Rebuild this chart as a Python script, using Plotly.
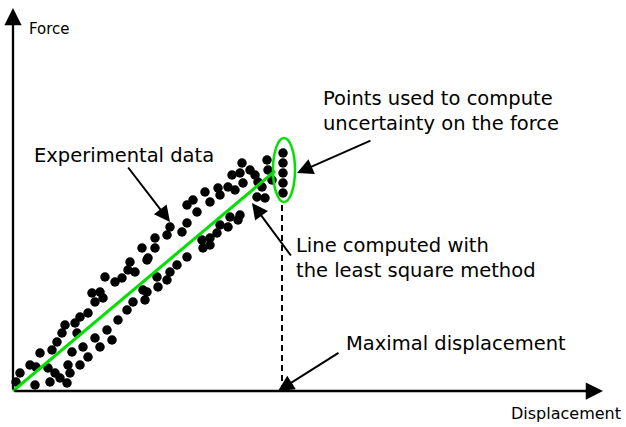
import plotly.graph_objects as go

disp = [3, 7, 17, 23, 22, 27, 39, 35, 37, 42, 47, 54, 57, 55, 67, 59, 70, 75, 44, 49,
        52, 64, 62, 67, 75, 82, 87, 94, 99, 105, 114, 120, 79, 87, 82, 90, 92, 102, 109, 115,
        122, 117, 129, 134, 142, 142, 130, 132, 144, 145,
        270, 270, 270, 270, 270, 254, 255, 259, 249, 244, 252, 229, 237, 242, 245, 219, 227, 230,
        215, 222, 205, 192, 207, 197, 180, 174, 184, 174, 157, 169, 154, 135,
        227, 225, 217, 215, 207, 204, 197, 189, 190, 197, 174, 164, 157, 154, 134]
force = [9, 18, 26, 24, 6, 38, 41, 23, 9, 18, 13, 8, 18, 26, 26, 39, 44, 34, 49, 58,
         66, 58, 68, 74, 78, 53, 44, 61, 51, 71, 81, 89, 98, 99, 89, 93, 114, 109, 113, 121,
         119, 129, 143, 131, 153, 143, 101, 91, 114, 104,
         238, 228, 218, 208, 198, 231, 221, 211, 204, 194, 193, 228, 221, 216, 209, 216, 218, 208,
         204, 201, 203, 199, 196, 189, 191, 186, 179, 168, 164, 159, 156, 133,
         176, 171, 174, 164, 166, 158, 153, 151, 143, 146, 134, 126, 119, 111, 99]

# Least-square line end points
fit_x = [0, 262]
fit_y = [0, 220]

# Maximal displacement and ellipse bounds
max_disp = 269
max_force_top = 186
ell_x = [260, 282]
ell_y = [189, 253]

GREEN = "rgb(0,225,0)"
FONT = "DejaVu Sans"

fig = go.Figure()
fig.add_trace(go.Scatter(x=disp, y=force, mode="markers",
                         marker=dict(color="black", size=9.5, line=dict(width=0)),
                         showlegend=False, hoverinfo="skip"))
fig.add_trace(go.Scatter(x=fit_x, y=fit_y, mode="lines",
                         line=dict(color=GREEN, width=3),
                         showlegend=False, hoverinfo="skip"))
fig.add_trace(go.Scatter(x=[max_disp, max_disp], y=[0, max_force_top], mode="lines",
                         line=dict(color="black", width=2, dash="6px,4px"),
                         showlegend=False, hoverinfo="skip"))

fig.add_shape(type="circle", xref="x", yref="y",
              x0=ell_x[0], x1=ell_x[1], y0=ell_y[0], y1=ell_y[1],
              line=dict(color=GREEN, width=2.5))

def arrow(hx, hy, tx, ty, w=2, s=1.6):
    fig.add_annotation(x=hx, y=hy, ax=tx, ay=ty, xref="x", yref="y",
                       axref="x", ayref="y", text="", showarrow=True,
                       arrowhead=2, arrowwidth=w, arrowsize=s,
                       arrowcolor="black", standoff=0, startstandoff=0)

# axes
arrow(0, 383, 0, 0, w=2.3, s=1.5)
arrow(590, 0, 0, 0, w=2.3, s=1.5)
# pointer arrows
arrow(284, 218, 359, 251)
arrow(157, 169, 114, 225)
arrow(239, 188, 279, 134)
arrow(265, 0, 327, 39)

def label(x, y, t, size=19.5, xanchor="left", align="left"):
    fig.add_annotation(x=x, y=y, xref="x", yref="y", text=t, showarrow=False,
                       xanchor=xanchor, yanchor="middle", align=align, borderpad=0,
                       font=dict(family=FONT, size=size, color="black"))

label(15, 362, "Force", size=15)
label(609, -22, "Displacement", size=16, xanchor="right", align="right")
label(309, 280, "Points used to compute<br>uncertainty on the force")
label(20, 236, "Experimental data")
label(282, 133, "Line computed with<br>the least square method")
label(332, 48, "Maximal displacement")

fig.update_layout(
    width=626, height=427,
    margin=dict(l=0, r=0, t=0, b=0),
    paper_bgcolor="white", plot_bgcolor="white",
    xaxis=dict(range=[-13, 613], visible=False, fixedrange=True),
    yaxis=dict(range=[-36, 391], visible=False, fixedrange=True),
    showlegend=False,
)

fig.write_html("out.html", config={"displayModeBar": False},
               post_script="document.body.style.margin='0';document.body.style.overflow='hidden';")
